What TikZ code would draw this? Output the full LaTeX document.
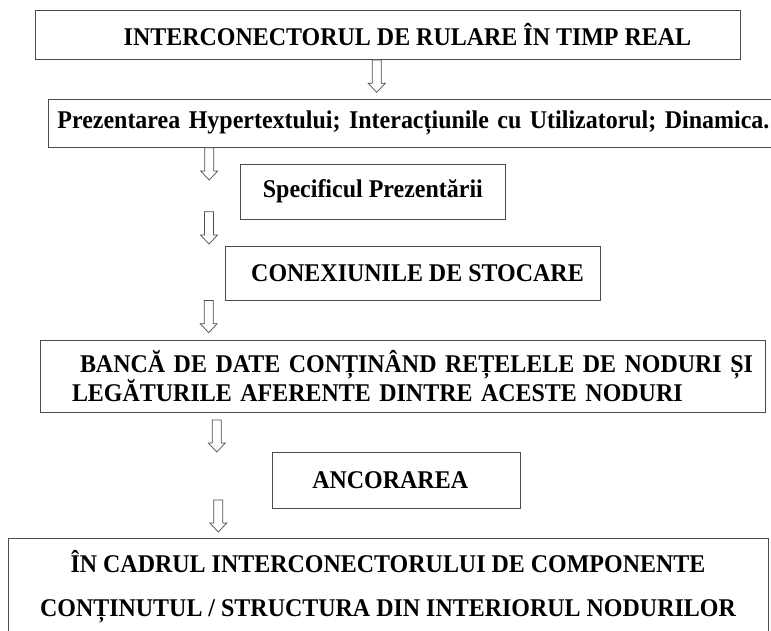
\documentclass[tikz,border=0pt]{standalone}
\usepackage{fontspec}
\setmainfont{Liberation Serif}[FakeStretch=0.94]
\usetikzlibrary{calc}

\begin{document}
\begin{tikzpicture}[x=1pt,y=-1pt]

\tikzset{mybox/.style={draw=black!70, line width=0.8pt, inner sep=0pt, text=black, font=\fontsize{25.5}{28}\selectfont\bfseries}}
\tikzset{myarrow/.style={draw=black!70, line width=0.7pt, fill=white,
  to path={($(\tikztostart)+(-4.5,0)$) -- ($(\tikztotarget)+(-4.5,-9)$) -- ($(\tikztotarget)+(-8.5,-9)$) -- (\tikztotarget)
    -- ($(\tikztotarget)+(8.5,-9)$) -- ($(\tikztotarget)+(4.5,-9)$) -- ($(\tikztostart)+(4.5,0)$) -- cycle}}}

\useasboundingbox (0,0) rectangle (771,630);

\node[mybox, minimum width=705pt, minimum height=49.5pt] (rulare) at (387.5,34.75) {\hspace*{40pt}INTERCONECTORUL DE RULARE ÎN TIMP REAL};
\node[mybox, anchor=west, text width=722pt, align=left, inner xsep=9pt, minimum height=48pt] (prezentare) at (48,123.3) {Prezentarea Hypertextului; Interacțiunile cu Utilizatorul; Dinamica.};
\node[mybox, minimum width=264.3pt, minimum height=55.3pt] (specific) at (372.85,191.65) {Specificul Prezentării};
\node[mybox, minimum width=375pt, minimum height=54pt] (conexiuni) at (412.5,273) {\hspace*{10pt}CONEXIUNILE DE STOCARE};
\node[mybox, text width=705pt, align=left, inner xsep=10pt, minimum height=72pt] (banca) at (402.5,376) {\hspace*{30pt}BANCĂ DE DATE CONȚINÂND REȚELELE DE NODURI ȘI\\\hspace*{22pt}LEGĂTURILE AFERENTE DINTRE ACESTE NODURI};
\node[mybox, minimum width=248pt, minimum height=56pt] (ancorare) at (396.7,480.3) {ANCORAREA\hspace*{13pt}};
\node[mybox, anchor=north, align=center, minimum width=760pt, minimum height=96pt] (continut) at (388,538) {ÎN CADRUL INTERCONECTORULUI DE COMPONENTE\\[16pt]CONȚINUTUL / STRUCTURA DIN INTERIORUL NODURILOR};

% arrow ends
\coordinate (v1) at (376.7,92.3);
\coordinate (v2) at (209.2,180);
\coordinate (u3) at (209,211.7);
\coordinate (v3) at (209,244);
\coordinate (v4) at (208.7,332.7);
\coordinate (u5) at (216.8,420);
\coordinate (v5) at (216.8,452);
\coordinate (u6) at (218.3,500);
\coordinate (v6) at (218.3,532);

\draw[myarrow] (rulare.south -| v1) to (v1);
\draw[myarrow] (prezentare.south -| v2) to (v2);
\draw[myarrow] (u3) to (v3);
\draw[myarrow] (conexiuni.south -| v4) to (v4);
\draw[myarrow] (u5) to (v5);
\draw[myarrow] (u6) to (v6);

\end{tikzpicture}
\end{document}
